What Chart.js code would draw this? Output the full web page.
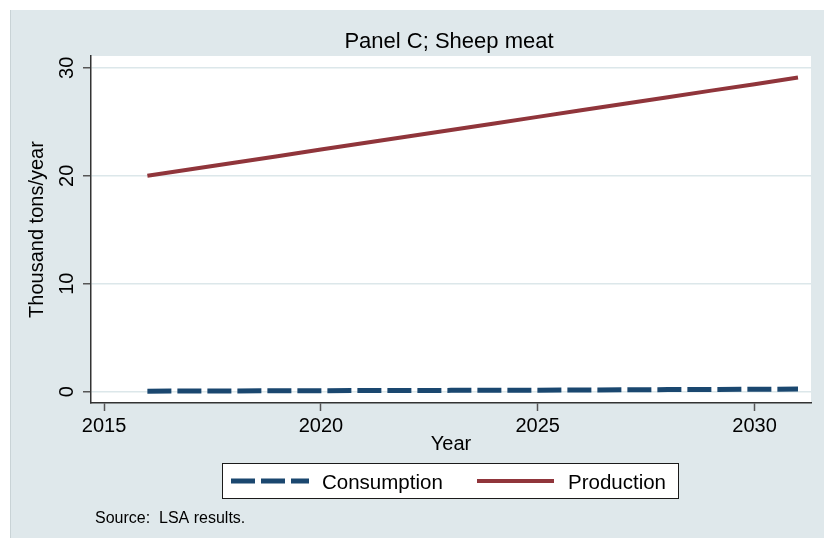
<!DOCTYPE html>
<html>
<head>
<meta charset="utf-8">
<title>Panel C; Sheep meat</title>
<script src="https://cdn.jsdelivr.net/npm/chart.js@4.4.1/dist/chart.umd.min.js"></script>
<style>
  html, body { margin: 0; padding: 0; background: #fff; }
  #container { display: block; }
</style>
</head>
<body>
<canvas id="container" width="824" height="538"></canvas>
<script>
// yearly projections, thousand tons/year
const years = [2016, 2017, 2018, 2019, 2020, 2021, 2022, 2023, 2024, 2025, 2026, 2027, 2028, 2029, 2030, 2031];
const consumption = [0.05, 0.06, 0.07, 0.08, 0.09, 0.10, 0.11, 0.12, 0.13, 0.14, 0.16, 0.17, 0.19, 0.20, 0.22, 0.24];
const production = [20.00, 20.61, 21.21, 21.82, 22.43, 23.03, 23.64, 24.25, 24.85, 25.46, 26.07, 26.67, 27.28, 27.89, 28.49, 29.10];
const xTicks = [2015, 2020, 2025, 2030];
const yTicks = [0, 10, 20, 30];

const FONT = '"Liberation Sans", Arial, Helvetica, sans-serif';
const BG = "#dfe8eb";

const ctx = document.getElementById("container");

// backdrop, rotated y labels, titles, legend box and note
const stataLook = {
  id: "stataLook",
  beforeDraw(chart) {
    const c = chart.ctx;
    const a = chart.chartArea;
    c.save();
    c.fillStyle = "#ffffff";
    c.fillRect(0, 0, chart.width, chart.height);
    c.fillStyle = BG;
    c.fillRect(10, 10, chart.width - 10, chart.height - 10);
    c.fillStyle = "#c9d3d6";
    c.fillRect(10, 10, 1, chart.height - 10);
    c.fillStyle = "#ffffff";
    c.fillRect(a.left, a.top, a.right - a.left, a.bottom - a.top);
    c.restore();
  },
  afterDraw(chart) {
    const c = chart.ctx;
    const a = chart.chartArea;
    const y = chart.scales.y;
    const midX = (a.left + a.right) / 2;
    const midY = (a.top + a.bottom) / 2;
    c.save();
    c.fillStyle = "#000";

    // y tick labels, vertical
    c.font = `20px ${FONT}`;
    c.textAlign = "center";
    c.textBaseline = "alphabetic";
    y.ticks.forEach((t) => {
      c.save();
      c.translate(a.left - 18, y.getPixelForValue(t.value));
      c.rotate(-Math.PI / 2);
      c.fillText(String(t.value), 0, 0);
      c.restore();
    });

    // y axis title
    c.save();
    c.translate(43, midY);
    c.rotate(-Math.PI / 2);
    c.fillText("Thousand tons/year", 0, 0);
    c.restore();

    // x axis title
    c.fillText("Year", midX, 450);

    // chart title
    c.font = `22px ${FONT}`;
    c.fillText("Panel C; Sheep meat", 449, 48);

    // legend box
    const bx = 222, by = 463, bw = 456, bh = 35;
    c.fillStyle = "#ffffff";
    c.fillRect(bx, by, bw, bh);
    c.strokeStyle = "#1a1a1a";
    c.lineWidth = 1;
    c.strokeRect(bx + 0.5, by + 0.5, bw, bh);
    const items = [
      { ds: chart.data.datasets[0], x0: 231, x1: 309, tx: 322 },
      { ds: chart.data.datasets[1], x0: 477, x1: 554, tx: 568 },
    ];
    c.font = `20.5px ${FONT}`;
    c.textAlign = "left";
    items.forEach((it) => {
      c.save();
      c.strokeStyle = it.ds.borderColor;
      c.lineWidth = it.ds.borderWidth;
      c.setLineDash(it.ds.borderDash || []);
      c.beginPath();
      c.moveTo(it.x0, 481);
      c.lineTo(it.x1, 481);
      c.stroke();
      c.restore();
      c.fillStyle = "#000";
      c.fillText(it.ds.label, it.tx, 489);
    });

    // note
    c.font = `16px ${FONT}`;
    c.fillText("Source:  LSA results.", 95, 523);
    c.restore();
  },
};

const myChart = new Chart(ctx, {
  type: "line",
  data: {
    datasets: [
      {
        label: "Consumption",
        data: years.map((yr, i) => ({ x: yr, y: consumption[i] })),
        borderColor: "#1a476f",
        backgroundColor: "#1a476f",
        borderWidth: 5,
        borderDash: [24, 6],
        pointRadius: 0,
      },
      {
        label: "Production",
        data: years.map((yr, i) => ({ x: yr, y: production[i] })),
        borderColor: "#90353b",
        backgroundColor: "#90353b",
        borderWidth: 4,
        pointRadius: 0,
      },
    ],
  },
  options: {
    responsive: false,
    animation: false,
    layout: { padding: { left: 10, right: 13, top: 56, bottom: 85 } },
    plugins: {
      legend: { display: false },
      title: { display: false },
      tooltip: { enabled: false },
    },
    scales: {
      x: {
        type: "linear",
        min: 2014.7,
        max: 2031.3,
        afterBuildTicks: (s) => { s.ticks = xTicks.map((v) => ({ value: v })); },
        afterFit: (s) => { s.height = 50; },
        grid: { drawOnChartArea: false, drawTicks: true, tickLength: 8, tickColor: "#555", tickWidth: 1.5 },
        border: { display: true, color: "#333", width: 1.5 },
        ticks: {
          color: "#000",
          padding: 3,
          maxRotation: 0,
          font: { family: FONT, size: 20 },
          callback: (v) => String(v),
        },
      },
      y: {
        type: "linear",
        min: -1.05,
        max: 31.1,
        afterBuildTicks: (s) => { s.ticks = yTicks.map((v) => ({ value: v })); },
        afterFit: (s) => { s.width = 81; },
        grid: { color: "#dce7ea", lineWidth: 1.5, drawTicks: true, tickLength: 8, tickColor: "#555", tickWidth: 1.5 },
        border: { display: true, color: "#333", width: 1.5 },
        ticks: { display: false },
      },
    },
  },
  plugins: [stataLook],
});
</script>
</body>
</html>
